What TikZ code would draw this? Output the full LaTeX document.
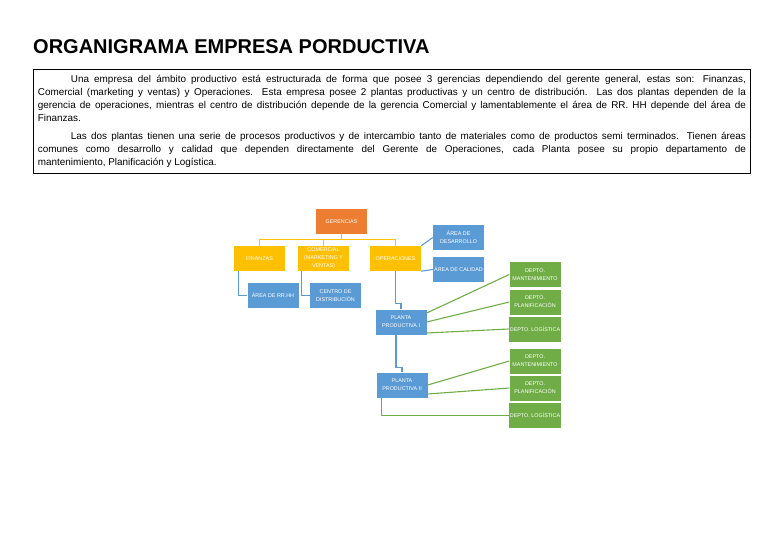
\documentclass[tikz,border=0pt]{standalone}
\usepackage{fontspec}
\setmainfont{Liberation Sans}
\definecolor{gerorange}{HTML}{ED7D31}
\definecolor{geryellow}{HTML}{FFC000}
\definecolor{gerblue}{HTML}{5B9BD5}
\definecolor{gergreen}{HTML}{70AD47}

\begin{document}
\begin{tikzpicture}[x=1pt, y=-1pt, every node/.style={inner sep=1pt}, org/.style={minimum width=51pt, minimum height=25pt, align=center, text=white, font=\fontsize{5.4}{8}\selectfont}, yline/.style={draw=geryellow, line width=1.1pt}, bline/.style={draw=gerblue, line width=1.1pt}, gline/.style={draw=gergreen, line width=1.1pt}]
	\useasboundingbox (0,0) rectangle (768,543);
	\node[anchor=base west, inner sep=0pt, font=\bfseries\fontsize{20}{24}\selectfont] (titulo) at (33,53) {ORGANIGRAMA EMPRESA PORDUCTIVA};
	\node[draw, line width=0.8pt, anchor=north west, minimum width=717pt, minimum height=104pt, inner xsep=4.5pt, inner ysep=2pt, font=\fontsize{9.9}{13}\selectfont] (texto) at (33,69) {\begin{minipage}{708pt}\hyphenpenalty=10000\exhyphenpenalty=10000\setlength\parskip{5pt}\setlength\parindent{33pt}Una empresa del ámbito productivo está estructurada de forma que posee 3 gerencias dependiendo del gerente general, estas son: Finanzas,\linebreak Comercial (marketing y ventas) y Operaciones. Esta empresa posee 2 plantas productivas y un centro de distribución. Las dos plantas dependen de la\linebreak gerencia de operaciones, mientras el centro de distribución depende de la gerencia Comercial y lamentablemente el área de RR. HH depende del área de\linebreak Finanzas.\par
	Las dos plantas tienen una serie de procesos productivos y de intercambio tanto de materiales como de productos semi terminados. Tienen áreas\linebreak comunes como desarrollo y calidad que dependen directamente del Gerente de Operaciones, cada Planta posee su propio departamento de\linebreak mantenimiento, Planificación y Logística.\end{minipage}};
	\node[org, fill=gerorange] (ger) at (341.5,221.5) {GERENCIAS};
	\node[org, fill=geryellow] (fin) at (259.5,258.5) {FINANZAS};
	\node[org, fill=geryellow] (com) at (323.5,258.5) {COMERCIAL\\(MARKETING Y\\VENTAS)};
	\node[org, fill=geryellow] (ope) at (395.5,258.5) {OPERACIONES};
	\node[org, fill=gerblue] (des) at (458.5,237.5) {ÁREA DE\\DESARROLLO};
	\node[org, fill=gerblue] (cal) at (458.5,269.5) {ÁREA DE CALIDAD};
	\node[org, fill=gerblue] (rrhh) at (273,295.5) {ÁREA DE RR.HH};
	\node[org, fill=gerblue] (cen) at (335.5,295.5) {CENTRO DE\\DISTRIBUCIÓN};
	\node[org, fill=gerblue] (p1) at (401,322) {PLANTA\\PRODUCTIVA I};
	\node[org, fill=gerblue] (p2) at (402,385) {PLANTA\\PRODUCTIVA II};
	\node[org, fill=gergreen] (m1) at (535,274.5) {DEPTO.\\MANTENIMIENTO};
	\node[org, fill=gergreen] (pl1) at (535,302) {DEPTO.\\PLANIFICACIÓN};
	\node[org, fill=gergreen] (lo1) at (535,329) {DEPTO. LOGÍSTICA};
	\node[org, fill=gergreen] (m2) at (535,361) {DEPTO.\\MANTENIMIENTO};
	\node[org, fill=gergreen] (pl2) at (535,388) {DEPTO.\\PLANIFICACIÓN};
	\node[org, fill=gergreen] (lo2) at (535,415.5) {DEPTO. LOGÍSTICA};
	\draw[yline] (ger.south) -- ++(0,5.5) coordinate (gj) -| (fin.north);
	\draw[yline] (gj) -| (com.north);
	\draw[yline] (gj) -| (ope.north);
	\draw[bline] ([xshift=5pt]fin.south west) |- (rrhh.west);
	\draw[bline] ([xshift=4pt]com.south west) |- (cen.west);
	\draw[bline] (ope.north east) -- (des.west);
	\draw[bline] (ope.south east) -- (cal.west);
	\draw[bline] (ope.south) -- ++(0,32) -| (p1.north);
	\draw[bline] ([xshift=-5pt]p1.south) -- ++(0,33) -| (p2.north);
	\draw[gline] ([yshift=9pt]p1.east) -- (m1.west);
	\draw[gline] (p1.east) -- (pl1.west);
	\draw[gline] ([yshift=-11pt]p1.east) -- (lo1.west);
	\draw[gline] (p2.east) -- (m2.west);
	\draw[gline] ([yshift=-9pt]p2.east) -- (pl2.west);
	\draw[gline] ([xshift=5pt]p2.south west) |- (lo2.west);
\end{tikzpicture}
\end{document}
